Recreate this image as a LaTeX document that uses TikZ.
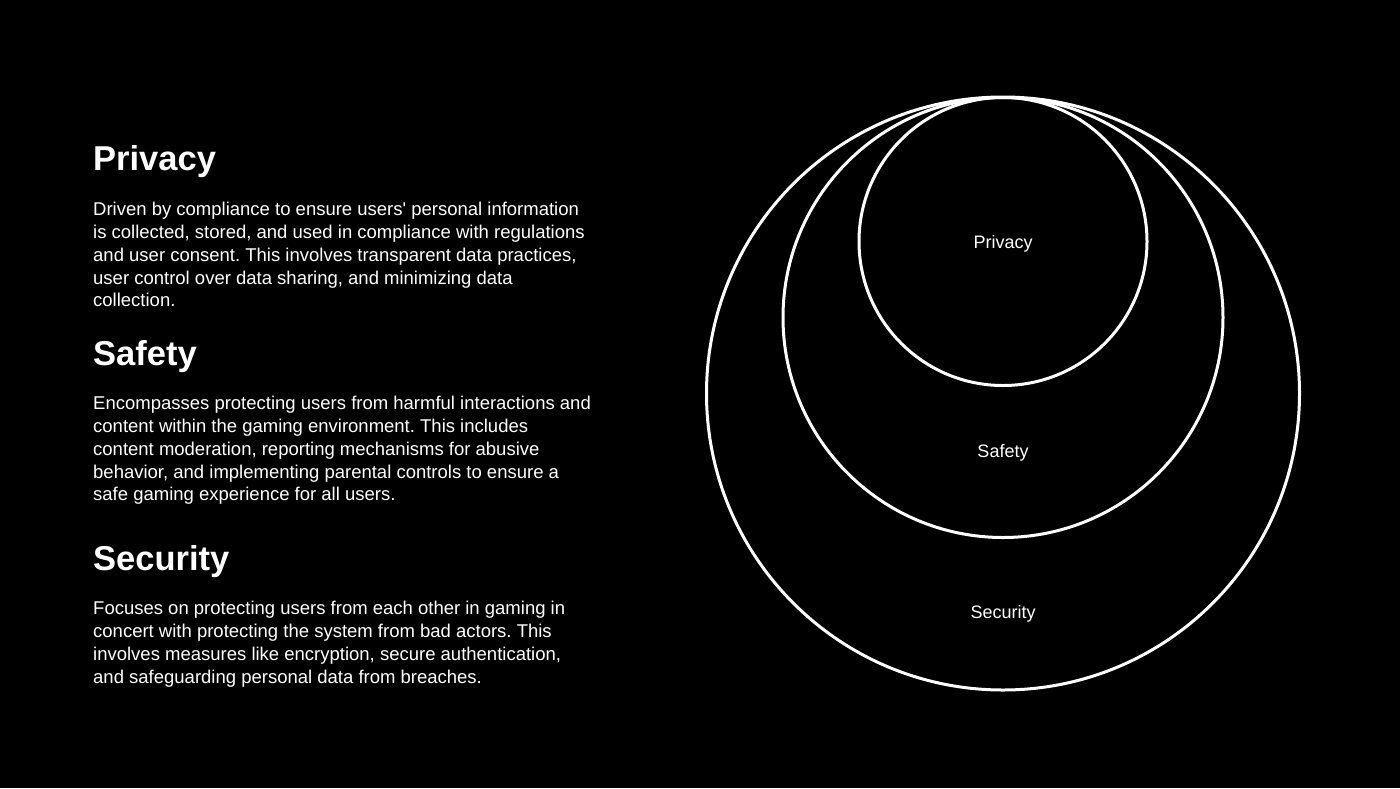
\documentclass[tikz,border=0pt]{standalone}
\usepackage{fontspec}
\newfontfamily\plainsans{Liberation Sans}
\frenchspacing
\tikzset{
  ring/.style={draw=white,line width=3pt},
  heading/.style={anchor=base west,inner sep=0pt,text=white,font=\plainsans\fontsize{34.5}{40}\selectfont\bfseries},
  blurb/.style={anchor=north west,inner sep=0pt,text=white,align=left,font=\plainsans\fontsize{18.5}{22.8}\selectfont},
  ringlabel/.style={anchor=base,text=white,font=\plainsans\fontsize{18}{22}\selectfont}
}
\begin{document}
\begin{tikzpicture}[x=1pt,y=-1pt]
  \fill[black] (0,0) rectangle (1400,788);
  \useasboundingbox (0,0) rectangle (1400,788);
  % rings, all touching at the top
  \draw[ring] (1003,393.5) circle (296.5);
  \draw[ring] (1003,317.5) circle (220);
  \draw[ring] (1003,241.5) circle (144);
  \node[ringlabel] (privacyLabel) at (1003,248) {Privacy};
  \node[ringlabel] (safetyLabel) at (1003,457) {Safety};
  \node[ringlabel] (securityLabel) at (1003,618) {Security};
  % left column
  \node[heading] (privacyHead) at (93,170) {Privacy};
  \node[blurb] (privacyText) at (93,202) {Driven by compliance to ensure users' personal information\\
    is collected, stored, and used in compliance with regulations\\
    and user consent. This involves transparent data practices,\\
    user control over data sharing, and minimizing data\\
    collection.};
  \node[heading] (safetyHead) at (93,365) {Safety};
  \node[blurb] (safetyText) at (93,396) {Encompasses protecting users from harmful interactions and\\
    content within the gaming environment. This includes\\
    content moderation, reporting mechanisms for abusive\\
    behavior, and implementing parental controls to ensure a\\
    safe gaming experience for all users.};
  \node[heading] (securityHead) at (93,570) {Security};
  \node[blurb] (securityText) at (93,601) {Focuses on protecting users from each other in gaming in\\
    concert with protecting the system from bad actors. This\\
    involves measures like encryption, secure authentication,\\
    and safeguarding personal data from breaches.};
\end{tikzpicture}
\end{document}
